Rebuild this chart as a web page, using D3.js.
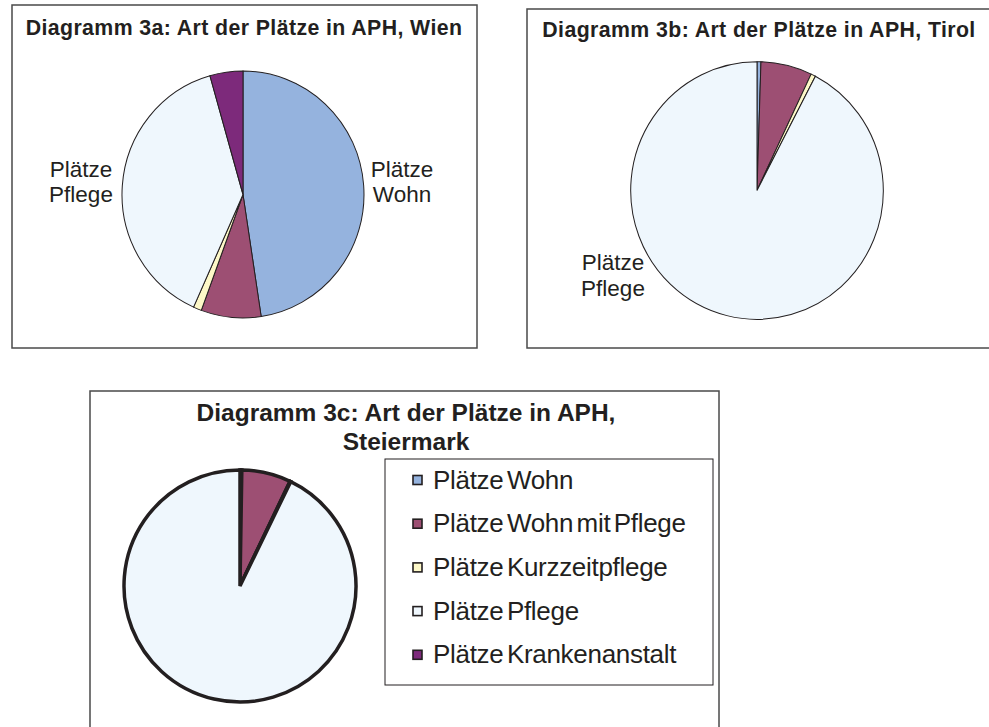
<!DOCTYPE html>
<html>
<head>
<meta charset="utf-8">
<script src="https://cdn.jsdelivr.net/npm/d3@7"></script>
<style>
  body { margin: 0; background: #fff; }
  svg { display: block; font-family: "Liberation Sans", Arial, sans-serif; }
</style>
</head>
<body>
<div id="chart"></div>
<script>
// Art der Plätze in APH - three pies (percent shares)

const categories = ["Plätze Wohn", "Plätze Wohn mit Pflege", "Plätze Kurzzeitpflege", "Plätze Pflege", "Plätze Krankenanstalt"];
const wien = [47.6, 8.0, 1.1, 38.9, 4.4];
const tirol = [0.5, 6.55, 0.6, 92.35, 0];
const steiermark = [0.25, 6.85, 0.1, 92.8, 0];
const colors = ["#95b3de", "#9d4f73", "#fdf8c8", "#eff7fd", "#7d2a7b"];

const titleWien = ["Diagramm 3a: Art der Plätze in APH, Wien"];
const titleTirol = ["Diagramm 3b: Art der Plätze in APH, Tirol"];
const titleSteiermark = ["Diagramm 3c: Art der Plätze in APH,", "Steiermark"];

const W = 989, H = 727;
const ink = "#231f20";

const svg = d3.select("#chart")
    .append("svg")
    .attr("width", W)
    .attr("height", H);

const color = d3.scaleOrdinal().domain(categories).range(colors);

const pie = d3.pie()
    .sort(null)
    .value(d => d.value);

function frame(x, y, w, h) {
    svg.append("rect")
        .attr("x", x).attr("y", y)
        .attr("width", w).attr("height", h)
        .attr("fill", "#fff")
        .attr("stroke", "#4a4a4a")
        .attr("stroke-width", 1.5);
}

function drawTitle(lines, cx, y0, lh, size, spacing) {
    svg.append("text")
        .attr("text-anchor", "middle")
        .attr("font-weight", "bold")
        .attr("font-size", size)
        .attr("letter-spacing", spacing)
        .attr("fill", ink)
        .selectAll("tspan")
        .data(lines)
        .join("tspan")
        .attr("x", cx)
        .attr("y", (d, i) => y0 + i * lh)
        .text(d => d);
}

function drawPie(values, cx, cy, r, sy, strokeW) {
    const data = categories.map((c, i) => ({ name: c, value: values[i] }));
    const arc = d3.arc().innerRadius(0).outerRadius(r);
    const g = svg.append("g")
        .attr("transform", `translate(${cx},${cy}) scale(1,${sy})`);
    g.selectAll("path")
        .data(pie(data).filter(d => d.data.value > 0))
        .join("path")
        .attr("d", arc)
        .attr("fill", d => color(d.data.name))
        .attr("stroke", ink)
        .attr("stroke-width", strokeW)
        .attr("stroke-linejoin", "miter");
}

function drawLabel(lines, cx, y0, lh) {
    svg.append("text")
        .attr("text-anchor", "middle")
        .attr("font-size", 22.5)
        .attr("fill", ink)
        .selectAll("tspan")
        .data(lines)
        .join("tspan")
        .attr("x", cx)
        .attr("y", (d, i) => y0 + i * lh)
        .text(d => d);
}

// panel a - Wien
frame(12, 5, 465, 343);
drawTitle(titleWien, 244, 35, 0, 21.3, 0.4);
drawPie(wien, 243, 194.5, 121, 1.02, 1);
drawLabel(["Plätze", "Pflege"], 81, 177, 25);
drawLabel(["Plätze", "Wohn"], 402, 177, 25);

// panel b - Tirol
frame(527, 9, 480, 339);
drawTitle(titleTirol, 759, 36.5, 0, 21.3, 0.4);
drawPie(tirol, 757, 190.5, 126.3, 1.02, 1);
drawLabel(["Plätze", "Pflege"], 613, 270, 26);

// panel c - Steiermark
frame(90, 391, 629, 350);
drawTitle(titleSteiermark, 406, 421, 28.5, 24.5, 0);
drawPie(steiermark, 240, 586, 116, 1, 3.5);

// legend
const legend = svg.append("g");
legend.append("rect")
    .attr("x", 385).attr("y", 459)
    .attr("width", 328).attr("height", 226)
    .attr("fill", "#fff")
    .attr("stroke", ink)
    .attr("stroke-width", 1);

const item = legend.selectAll("g.item")
    .data(categories)
    .join("g")
    .attr("class", "item")
    .attr("transform", (d, i) => `translate(413,${480 + i * 43.7})`);

item.append("rect")
    .attr("x", 0).attr("y", -4.5)
    .attr("width", 9).attr("height", 9)
    .attr("fill", d => color(d))
    .attr("stroke", ink)
    .attr("stroke-width", 1.6);

item.append("text")
    .attr("x", 20)
    .attr("y", 8.5)
    .attr("font-size", 26)
    .attr("word-spacing", -3.5)
    .attr("letter-spacing", -0.3)
    .attr("fill", ink)
    .text(d => d);
</script>
</body>
</html>
